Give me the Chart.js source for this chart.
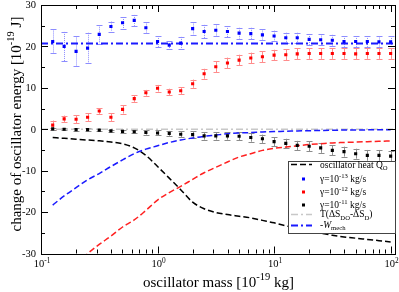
<!DOCTYPE html>
<html>
<head>
<meta charset="utf-8">
<script src="https://cdn.jsdelivr.net/npm/chart.js@4.4.1/dist/chart.umd.min.js"></script>
<style>
  body { margin: 0; background: #fff; }
  #box { position: relative; width: 399px; height: 292px; }
</style>
</head>
<body>
<div id="box"><canvas id="myChart"></canvas></div>
<script>
// oscillator masses [1e-19 kg]
const masses = [0.126, 0.158, 0.2, 0.251, 0.316, 0.398, 0.501, 0.631, 0.794, 1,
    1.26, 1.58, 2, 2.51, 3.16, 3.98, 5.01, 6.31, 7.94, 10,
    12.6, 15.8, 20, 25.1, 31.6, 39.8, 50.1, 63.1, 79.4, 100];

// simulation points, gamma = 1e-13 / 1e-12 / 1e-11 kg/s
const blueVal = [21.2, 20.0, 18.8, 19.6, 22.9, 24.8, 25.7, 26.3, 24.5, 21.2,
    20.3, 20.8, 24.3, 23.6, 23.9, 23.6, 23.2, 23.1, 22.8, 22.5,
    22.1, 22.1, 21.7, 21.6, 21.5, 21.2, 21.2, 21.2, 21.1, 21.1];
const blueErr = [2.9, 3.5, 3.6, 3.7, 2.2, 1.2, 1.4, 1.3, 1.3, 1.3,
    1.0, 1.5, 1.5, 1.6, 1.4, 1.3, 1.3, 1.4, 1.3, 1.3,
    1.2, 1.2, 1.3, 1.3, 1.3, 1.3, 1.3, 1.3, 1.3, 1.4];
const redVal = [1.0, 2.5, 2.4, 2.9, 4.4, 2.9, 4.8, 7.4, 8.8, 9.9,
    9.0, 9.3, 11.0, 13.4, 15.1, 16.0, 16.7, 17.2, 17.5, 17.9,
    18.0, 18.2, 18.3, 18.3, 18.3, 18.3, 18.2, 18.3, 18.3, 18.3];
const redErr = [1.1, 0.8, 1.0, 1.0, 0.7, 1.0, 1.0, 0.8, 0.7, 0.8,
    0.8, 0.8, 1.0, 1.2, 1.3, 1.3, 1.3, 1.3, 1.3, 1.3,
    1.3, 1.3, 1.3, 1.3, 1.3, 1.3, 1.3, 1.3, 1.3, 1.3];
const blackVal = [0.1, 0.0, -0.1, -0.1, -0.2, -0.4, -0.5, -0.6, -0.8, -0.9,
    -1.0, -1.2, -1.3, -1.6, -1.6, -1.6, -1.7, -2.0, -2.3, -3.0,
    -3.4, -3.9, -4.1, -4.5, -5.1, -5.4, -5.9, -6.3, -6.3, -6.5];
const blackErr = [0.3, 0.3, 0.3, 0.3, 0.3, 0.3, 0.4, 0.4, 0.5, 0.6,
    0.6, 0.7, 0.8, 0.9, 0.9, 0.9, 1.0, 1.0, 1.0, 1.1,
    1.1, 1.1, 1.2, 1.2, 1.2, 1.2, 1.2, 1.3, 1.3, 1.3];

// theory curves (oscillator heat Q_O) for the three gammas
const blueCurve = [-18.3, -16.1, -14.1, -12.2, -10.7, -9.0, -7.4, -5.9, -4.8, -4.0,
    -3.2, -2.6, -2.1, -1.7, -1.4, -1.1, -0.9, -0.8, -0.65, -0.55,
    -0.5, -0.4, -0.35, -0.3, -0.25, -0.2, -0.17, -0.15, -0.12, -0.1];
const redCurve = [null, null, -32.5, -30.0, -27.8, -25.8, -23.6, -21.9, -19.6, -17.1,
    -15.3, -13.8, -12.1, -10.5, -9.2, -7.9, -6.7, -5.9, -5.1, -4.6,
    -4.3, -4.0, -3.7, -3.5, -3.3, -3.2, -3.1, -3.0, -2.9, -2.85];
const blackCurve = [-2.0, -2.2, -2.4, -2.6, -2.8, -3.1, -3.5, -4.5, -6.3, -9.0,
    -11.8, -14.6, -17.6, -19.2, -20.1, -20.6, -21.0, -21.4, -22.0, -22.6,
    -23.3, -24.0, -24.6, -25.1, -25.6, -26.0, -26.3, -26.6, -26.9, -27.2];

// constant lines across the whole mass range
const lineMass = [0.1, 109];
const entropyVal = [0, 0];
const wMechVal = [20.7, 20.7];

const yTicks = [-30, -20, -10, 0, 10, 20, 30];
const xTicks = [0.1, 1, 10, 100];
const xTickExp = ['-1', '0', '1', '2'];

function pts(xs, ys) {
    let out = [];
    xs.forEach((x, i) => {
        if (ys[i] !== null) out.push({x: x, y: ys[i]});
    });
    return out;
}

const FONT = '"Liberation Serif", "Times New Roman", serif';

function rich(ctx, parts, x, y, size, align) {
    let w = 0;
    const info = parts.map(([t, m]) => {
        const s = (m === 1 || m === -1) ? size * 0.7 : size;
        const f = (m === 2 ? 'italic ' : '') + s + 'px ' + FONT;
        ctx.font = f;
        const tw = ctx.measureText(t).width;
        w += tw;
        return [f, tw];
    });
    let cx = align === 'center' ? x - w / 2 : (align === 'right' ? x - w : x);
    ctx.textAlign = 'left';
    ctx.textBaseline = 'alphabetic';
    parts.forEach(([t, m], i) => {
        ctx.font = info[i][0];
        const dy = m === 1 ? -size * 0.42 : (m === -1 ? size * 0.3 : 0);
        ctx.fillText(t, cx, y + dy);
        cx += info[i][1];
    });
}

const errorBars = {
    id: 'errorBars',
    beforeDatasetsDraw(chart) {
        const ctx = chart.ctx;
        const xs = chart.scales.x, ys = chart.scales.y;
        ctx.save();
        chart.data.datasets.forEach(ds => {
            if (!ds.errors) return;
            ctx.strokeStyle = ds.errColor;
            ctx.lineWidth = 1;
            ds.data.forEach((p, i) => {
                const px = Math.round(xs.getPixelForValue(p.x)) + 0.5;
                const y1 = ys.getPixelForValue(p.y + ds.errors[i]);
                const y2 = ys.getPixelForValue(p.y - ds.errors[i]);
                ctx.setLineDash(ds.errDash || []);
                ctx.beginPath();
                ctx.moveTo(px, y1);
                ctx.lineTo(px, y2);
                ctx.stroke();
                ctx.setLineDash([]);
                ctx.beginPath();
                ctx.moveTo(px - 3, Math.round(y1) + 0.5);
                ctx.lineTo(px + 3, Math.round(y1) + 0.5);
                ctx.moveTo(px - 3, Math.round(y2) + 0.5);
                ctx.lineTo(px + 3, Math.round(y2) + 0.5);
                ctx.stroke();
            });
        });
        ctx.restore();
    }
};

const frame = {
    id: 'frame',
    afterDraw(chart) {
        const ctx = chart.ctx;
        const a = chart.chartArea;
        const xs = chart.scales.x, ys = chart.scales.y;
        ctx.save();
        ctx.strokeStyle = '#000';
        ctx.lineWidth = 1;
        ctx.strokeRect(Math.round(a.left) + 0.5, Math.round(a.top) + 0.5,
            Math.round(a.right - a.left), Math.round(a.bottom - a.top));

        // inward ticks, y every 5, x on decades and 2..9
        ctx.beginPath();
        for (let v = -30; v <= 30; v += 5) {
            const py = Math.round(ys.getPixelForValue(v)) + 0.5;
            const len = v % 10 === 0 ? 7 : 4;
            ctx.moveTo(a.left, py); ctx.lineTo(a.left + len, py);
            ctx.moveTo(a.right, py); ctx.lineTo(a.right - len, py);
        }
        for (let d = 0.1; d <= 100; d *= 10) {
            for (let k = 1; k <= 9; k++) {
                const v = d * k;
                if (v > xs.max) break;
                const px = Math.round(xs.getPixelForValue(v)) + 0.5;
                const len = k === 1 ? 7 : 4;
                ctx.moveTo(px, a.bottom); ctx.lineTo(px, a.bottom - len);
                ctx.moveTo(px, a.top); ctx.lineTo(px, a.top + len);
            }
        }
        ctx.stroke();

        // tick labels
        ctx.fillStyle = '#000';
        ctx.font = '10.5px ' + FONT;
        ctx.textAlign = 'right';
        ctx.textBaseline = 'middle';
        yTicks.forEach(v => ctx.fillText(String(v), 36, ys.getPixelForValue(v) + 0.5));
        xTicks.forEach((v, i) => {
            rich(ctx, [['10', 0], [xTickExp[i], 1]], xs.getPixelForValue(v) + 1, 267, 10.5, 'center');
        });

        // axis titles
        rich(ctx, [['oscillator mass [10', 0], ['-19', 1], [' kg]', 0]], 218.5, 286.5, 15, 'center');
        ctx.save();
        ctx.translate(20.5, 124);
        ctx.rotate(-Math.PI / 2);
        rich(ctx, [['change of oscillator energy [10', 0], ['-19', 1], [' J]', 0]], 0, 0, 15, 'center');
        ctx.restore();

        // legend box inside plot
        const L = 288, T = 161, R = Math.round(a.right), B = 233;
        ctx.fillStyle = '#fff';
        ctx.fillRect(L, T, R - L, B - T);
        ctx.strokeStyle = '#444';
        ctx.strokeRect(L + 0.5, T + 0.5, R - L, B - T);

        const sample = (y, color, dash, width) => {
            ctx.strokeStyle = color;
            ctx.lineWidth = width;
            ctx.setLineDash(dash);
            ctx.beginPath();
            ctx.moveTo(291, y); ctx.lineTo(312, y);
            ctx.stroke();
            ctx.setLineDash([]);
        };
        const dot = (y, color) => {
            ctx.fillStyle = color;
            ctx.fillRect(302, y - 1, 3, 3);
        };
        sample(164.5, '#000', [6, 3], 1.5);
        dot(178.5, '#0000ff');
        dot(191.5, '#ff0000');
        dot(204.5, '#000');
        sample(214.5, '#c8c8c8', [7, 3, 2, 3], 1.5);
        sample(225.5, '#1a1aff', [7, 3, 2, 3], 2);

        ctx.fillStyle = '#000';
        const lx = 320, fs = 9.5;
        rich(ctx, [['oscillator heat Q', 0], ['O', -1]], lx, 167.5, fs, 'left');
        rich(ctx, [['γ=10', 0], ['-13', 1], [' kg/s', 0]], lx, 181.5, fs, 'left');
        rich(ctx, [['γ=10', 0], ['-12', 1], [' kg/s', 0]], lx, 194.5, fs, 'left');
        rich(ctx, [['γ=10', 0], ['-11', 1], [' kg/s', 0]], lx, 207.5, fs, 'left');
        rich(ctx, [['T(ΔS', 0], ['DO', -1], ['-ΔS', 0], ['D', -1], [')', 0]], lx, 217, fs, 'left');
        rich(ctx, [['-', 0], ['W', 2], ['mech', -1]], lx, 227.5, fs, 'left');
        ctx.restore();
    }
};

const ctx = document.getElementById('myChart').getContext('2d');

const myChart = new Chart(ctx, {
    type: 'scatter',
    data: {
        datasets: [
            {
                label: 'γ=1e-13 kg/s',
                data: pts(masses, blueVal),
                errors: blueErr,
                errColor: '#8c8cff',
                errDash: [1, 1],
                pointStyle: 'rect',
                pointRadius: 2.2,
                pointBorderWidth: 0,
                backgroundColor: '#0000ff',
                borderColor: '#0000ff'
            },
            {
                label: 'γ=1e-12 kg/s',
                data: pts(masses, redVal),
                errors: redErr,
                errColor: '#ff8c8c',
                pointStyle: 'rect',
                pointRadius: 2.2,
                pointBorderWidth: 0,
                backgroundColor: '#ff0000',
                borderColor: '#ff0000'
            },
            {
                label: 'γ=1e-11 kg/s',
                data: pts(masses, blackVal),
                errors: blackErr,
                errColor: '#8c8c8c',
                pointStyle: 'rect',
                pointRadius: 2.2,
                pointBorderWidth: 0,
                backgroundColor: '#000',
                borderColor: '#000'
            },
            {
                label: 'heat blue',
                data: pts(masses, blueCurve),
                showLine: true,
                pointRadius: 0,
                borderColor: '#1a1aff',
                borderWidth: 1.5,
                borderDash: [6, 3],
                cubicInterpolationMode: 'monotone'
            },
            {
                label: 'heat red',
                data: pts(masses, redCurve),
                showLine: true,
                pointRadius: 0,
                borderColor: '#ff2020',
                borderWidth: 1.5,
                borderDash: [6, 3],
                cubicInterpolationMode: 'monotone'
            },
            {
                label: 'oscillator heat Q_O',
                data: pts(masses, blackCurve),
                showLine: true,
                pointRadius: 0,
                borderColor: '#000',
                borderWidth: 1.5,
                borderDash: [6, 3],
                cubicInterpolationMode: 'monotone'
            },
            {
                label: 'T(dS_DO-dS_D)',
                data: pts(lineMass, entropyVal),
                showLine: true,
                pointRadius: 0,
                borderColor: '#c8c8c8',
                borderWidth: 1.5,
                borderDash: [7, 3, 2, 3]
            },
            {
                label: '-W_mech',
                data: pts(lineMass, wMechVal),
                showLine: true,
                pointRadius: 0,
                borderColor: '#1a1aff',
                borderWidth: 2,
                borderDash: [7, 3, 2, 3]
            }
        ]
    },
    options: {
        responsive: true,
        maintainAspectRatio: false,
        animation: false,
        layout: { padding: { top: 5, right: 3 } },
        plugins: { legend: { display: false }, tooltip: { enabled: false } },
        scales: {
            x: {
                type: 'logarithmic',
                min: 0.1,
                max: 109,
                grid: { display: false },
                border: { display: false },
                ticks: { display: false },
                afterFit: (scale) => { scale.height = 38.5; }
            },
            y: {
                min: -30,
                max: 30,
                grid: { display: false },
                border: { display: false },
                ticks: { display: false },
                afterFit: (scale) => { scale.width = 41; }
            }
        }
    },
    plugins: [errorBars, frame]
});
</script>
</body>
</html>
